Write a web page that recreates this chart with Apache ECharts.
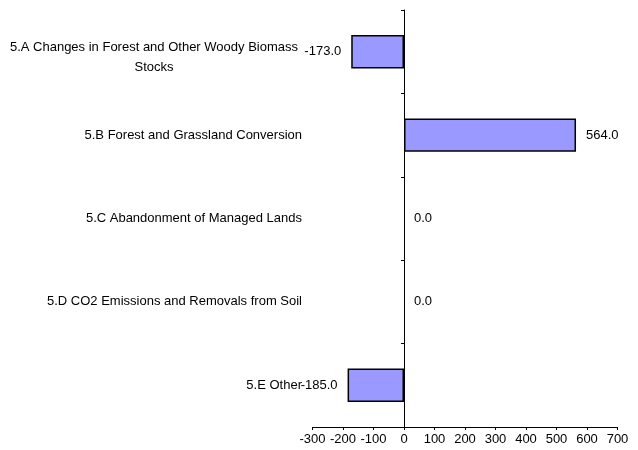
<!DOCTYPE html>
<html>
<head>
<meta charset="utf-8">
<script src="https://cdn.jsdelivr.net/npm/echarts@6/dist/echarts.min.js"></script>
<style>html,body{margin:0;padding:0;background:#fff}#c{width:638px;height:450px}</style>
</head>
<body>
<div id="c"></div>
<script>
var categories = [
  '5.A Changes in Forest and Other Woody Biomass\nStocks',
  '5.B Forest and Grassland Conversion',
  '5.C Abandonment of Managed Lands',
  '5.D CO2 Emissions and Removals from Soil',
  '5.E Other'
];
var values = [-173.0, 564.0, 0.0, 0.0, -185.0];
var xTicks = [-300, -200, -100, 0, 100, 200, 300, 400, 500, 600, 700];

var FONT = 'Liberation Sans, Arial, sans-serif';
var chart = echarts.init(document.getElementById('c'));
chart.setOption({
  animation: false,
  grid: {left: 312.5, right: 20.5, top: 10, bottom: 23, containLabel: false, outerBoundsMode: 'none'},
  xAxis: {
    type: 'value',
    min: xTicks[0], max: xTicks[xTicks.length - 1], interval: 100,
    splitLine: {show: false},
    axisLine: {show: true, onZero: false, lineStyle: {color: '#000', width: 1}},
    axisTick: {show: true, length: 3, lineStyle: {color: '#000'}},
    axisLabel: {color: '#000', fontFamily: FONT, fontSize: 13, margin: 6, hideOverlap: false}
  },
  yAxis: {
    type: 'category',
    inverse: true,
    data: categories.map(function (c) {
      return c.indexOf('\n') >= 0 ? {value: c, textStyle: {padding: [12, 4, 0, 0]}} : c;
    }),
    axisLine: {show: true, onZero: true, lineStyle: {color: '#000', width: 1}},
    axisTick: {show: true, length: 3, lineStyle: {color: '#000'}},
    axisLabel: {
      color: '#000', fontFamily: FONT, fontSize: 13, margin: 10.5,
      formatter: function (v) {
        return v.split('\n').map(function (l) { return '{a|' + l + '}'; }).join('\n');
      },
      rich: {a: {align: 'center', fontSize: 13, fontFamily: FONT, color: '#000', lineHeight: 20}}
    }
  },
  series: [{
    type: 'bar',
    barWidth: '40%',
    data: values.map(function (v) {
      return {
        value: v,
        label: {position: v < 0 ? 'left' : 'right'},
        itemStyle: v === 0 ? {borderWidth: 0} : undefined
      };
    }),
    itemStyle: {color: '#9999FF', borderColor: '#000', borderWidth: 1.5},
    label: {
      show: true, distance: 10, color: '#000', fontFamily: FONT, fontSize: 13,
      formatter: function (p) { return p.value.toFixed(1); }
    }
  }]
});
</script>
</body>
</html>
